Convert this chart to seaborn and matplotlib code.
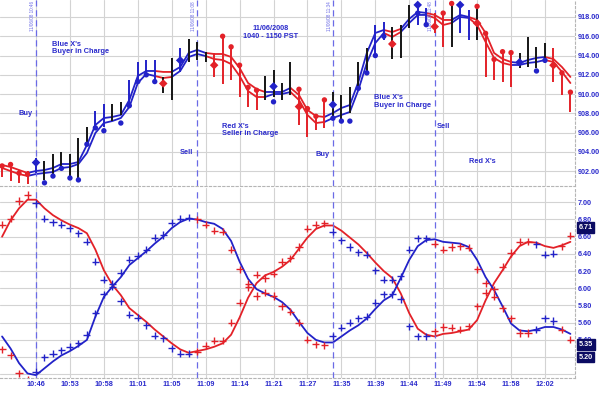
import numpy as np
import pandas as pd
import matplotlib
matplotlib.use("Agg")
import matplotlib.pyplot as plt
import matplotlib.transforms as mtransforms
import seaborn as sns

sns.set_style("white")
plt.rcParams['font.family'] = ['Liberation Sans', 'DejaVu Sans']

# ---------------- data ----------------
time_labels = ["10:46", "10:53", "10:58", "11:01", "11:05", "11:09", "11:14", "11:21",
               "11:27", "11:35", "11:39", "11:44", "11:49", "11:54", "11:58", "12:02"]
signal_bars = [4, 23, 39, 51]
signal_stamps = ["11/06/08 10:46", "11/06/08 11:08", "11/06/08 11:34", "11/06/08 11:48"]

bar_high = [902.8, 902.8, 902.1, 902.0, 903.4, 903.1, 903.8, 904.0, 903.8, 905.4,
            906.6, 908.3, 909.0, 909.0, 909.2, 911.5, 913.3, 913.5, 913.5, 911.8,
            913.75, 914.8, 915.7, 915.4, 914.4, 914.3, 916.0, 914.9, 913.0, 910.7,
            910.4, 911.9, 912.5, 911.15, 913.3, 910.5, 908.7, 907.7, 909.4, 910.2,
            909.9, 910.7, 913.3, 914.8, 917.2, 917.5, 916.95, 917.2, 919.25, 919.3,
            918.9, 918.4, 918.4, 919.25, 919.25, 918.7, 919.0, 916.3, 913.6, 914.4,
            914.3, 914.3, 915.9, 914.9, 915.3, 914.8, 912.2, 910.2]
bar_low = [901.4, 901.0, 900.8, 900.7, 901.8, 901.1, 901.6, 902.1, 901.3, 901.1,
           904.9, 906.5, 906.6, 907.2, 907.8, 908.7, 911.2, 912.0, 911.5, 910.1,
           909.4, 912.3, 913.3, 913.5, 913.3, 911.8, 911.0, 911.5, 909.7, 908.7,
           908.35, 909.4, 909.7, 909.4, 909.9, 906.8, 905.5, 906.3, 906.5, 907.5,
           907.3, 908.0, 910.6, 912.0, 914.1, 915.6, 913.65, 913.75, 916.9, 917.2,
           917.2, 916.3, 914.9, 914.9, 916.3, 915.6, 915.6, 911.8, 911.5, 911.3,
           910.7, 912.7, 912.8, 912.7, 913.2, 911.3, 909.9, 908.1]
bar_color = ("RRRR" "B" "KKKKKK" "BB" "KK" "BBBB" "KK" "B" "KKK" "RRRRRR" "KKKK"
             "RRRR" "KKKKK" "BB" "KKK" "BB" "RR" "K" "BB" "K" "RRRR" "KKKK" "RRR")

nan = np.nan
dot_price = [902.55, 902.7, 901.8, 901.7, nan, 900.8, 901.5, 902.3, 901.3, 901.1,
             904.8, 906.5, 906.2, nan, 907.0, 908.8, 911.3, 912.0, 911.3, nan,
             nan, nan, nan, nan, nan, nan, 916.0, 914.9, 913.0, 910.7,
             910.4, nan, 909.2, nan, nan, 910.5, 908.5, 907.7, 909.4, 907.5,
             907.2, 907.2, 910.6, 912.2, 914.0, 916.0, nan, nan, nan, 918.4,
             917.2, nan, 918.4, 919.4, nan, nan, 919.1, 916.3, 913.6, 914.4,
             914.3, nan, nan, 912.4, 913.5, nan, 912.2, 910.2]
diamond_price = [nan, nan, nan, nan, 902.9, nan, nan, nan, nan, nan,
                 nan, nan, nan, nan, nan, nan, nan, nan, nan, 911.1,
                 nan, 913.5, nan, nan, nan, 913.0, nan, nan, nan, nan,
                 nan, nan, 910.8, nan, nan, 908.7, nan, nan, nan, 908.9,
                 nan, nan, nan, nan, nan, nan, 915.2, nan, nan, 919.25,
                 nan, 917.0, nan, nan, 919.25, nan, 917.35, nan, nan, nan,
                 nan, 913.3, nan, nan, nan, 913.0, nan, nan]

ma_upper = [902.65, 902.44, 902.13, 901.82, 902.03, 902.13, 902.34, 902.75, 902.75, 902.96,
            904.72, 906.8, 907.52, 907.63, 907.84, 909.39, 911.88, 912.4, 912.4, 912.3,
            912.3, 912.81, 914.27, 914.58, 914.27, 914.16, 914.16, 913.85, 912.71, 911.15,
            910.53, 910.22, 910.22, 910.22, 910.64, 909.91, 908.35, 907.73, 907.63, 908.04,
            908.56, 908.87, 911.26, 914.27, 916.34, 916.65, 916.44, 916.76, 917.8, 918.52,
            918.42, 918.21, 917.69, 917.69, 918.21, 918.0, 917.69, 916.34, 914.27, 913.64,
            913.33, 913.23, 913.54, 913.75, 913.85, 913.64, 912.81, 911.78]
ma_lower = [902.34, 902.02, 901.71, 901.51, 901.71, 901.82, 901.92, 902.34, 902.44, 902.75,
            903.89, 905.97, 907.0, 907.21, 907.52, 908.66, 911.15, 912.09, 911.88, 911.67,
            911.78, 912.4, 913.85, 914.16, 913.95, 913.64, 913.54, 913.12, 911.88, 910.32,
            909.7, 909.7, 910.01, 910.01, 910.22, 909.39, 907.84, 907.0, 907.11, 907.52,
            907.84, 908.15, 910.43, 913.23, 915.3, 916.34, 915.93, 916.44, 917.38, 918.21,
            918.21, 917.9, 917.17, 917.38, 918.0, 917.9, 917.17, 915.41, 913.75, 913.23,
            913.02, 913.02, 913.23, 913.33, 913.54, 913.33, 912.3, 911.15]
trend_top = ("RRRR" + "B" * 15 + "RR" + "BBBB" + "R" * 7 + "BBB" + "RRRR" + "B" * 7
             + "RR" + "BBB" + "RRR" + "BB" + "RRRRR" + "BBBB" + "RRR")

osc_red = [6.60, 6.79, 6.93, 7.03, 7.03, 6.93, 6.85, 6.79, 6.74, 6.70,
           6.64, 6.45, 6.21, 6.04, 5.92, 5.77, 5.69, 5.61, 5.52, 5.44,
           5.36, 5.29, 5.25, 5.27, 5.29, 5.32, 5.36, 5.46, 5.66, 5.89,
           6.06, 6.15, 6.19, 6.25, 6.33, 6.46, 6.59, 6.69, 6.73, 6.73,
           6.67, 6.59, 6.51, 6.41, 6.30, 6.20, 6.12, 5.94, 5.71, 5.53,
           5.46, 5.44, 5.47, 5.48, 5.50, 5.52, 5.63, 5.86, 6.06, 6.21,
           6.37, 6.49, 6.54, 6.53, 6.49, 6.47, 6.50, 6.54]
osc_blue = [5.44, 5.30, 5.13, 5.01, 4.99, 5.07, 5.15, 5.22, 5.27, 5.33,
            5.40, 5.67, 5.90, 6.02, 6.13, 6.27, 6.35, 6.43, 6.52, 6.60,
            6.70, 6.77, 6.81, 6.80, 6.77, 6.75, 6.69, 6.55, 6.31, 6.11,
            5.99, 5.94, 5.90, 5.84, 5.75, 5.61, 5.48, 5.40, 5.37, 5.37,
            5.44, 5.51, 5.57, 5.65, 5.76, 5.86, 5.92, 6.12, 6.33, 6.49,
            6.56, 6.57, 6.54, 6.53, 6.52, 6.48, 6.33, 6.13, 5.98, 5.79,
            5.59, 5.51, 5.50, 5.52, 5.55, 5.55, 5.52, 5.47]
mark_red = [6.74, 6.81, 7.015, 7.085, 6.99, 6.81, 6.77, 6.74, 6.70, 6.64,
            6.54, 6.31, 6.10, 6.02, 5.85, 5.69, 5.66, 5.57, 5.45, 5.42,
            5.30, 5.24, 5.24, 5.26, 5.33, 5.39, 5.39, 5.60, 5.83, 6.01,
            6.16, 6.12, 6.17, 6.31, 6.35, 6.48, 6.69, 6.74, 6.755, 6.66,
            6.56, 6.48, 6.42, 6.39, 6.21, 6.10, 6.10, 5.87, 5.56, 5.44,
            5.44, 5.50, 5.55, 5.54, 5.52, 5.56, 5.79, 5.95, 5.99, 6.25,
            6.41, 6.54, 6.54, 6.51, 6.39, 6.40, 6.49, 6.61]
mark_blue = [5.29, 5.22, 5.01, 4.94, 5.03, 5.20, 5.24, 5.28, 5.32, 5.36,
             5.46, 5.71, 5.93, 6.05, 6.18, 6.33, 6.38, 6.45, 6.59, 6.62,
             6.76, 6.81, 6.82, 6.80, 6.74, 6.67, 6.66, 6.45, 6.22, 6.05,
             5.91, 5.95, 5.91, 5.79, 5.73, 5.60, 5.40, 5.35, 5.34, 5.44,
             5.54, 5.60, 5.65, 5.67, 5.83, 5.93, 5.93, 6.14, 6.45, 6.58,
             6.58, 6.52, 6.45, 6.48, 6.49, 6.47, 6.22, 6.06, 5.90, 5.77,
             5.65, 5.48, 5.48, 5.52, 5.65, 5.62, 5.52, 5.40]
trend_osc = "R" * 4 + "B" * 19 + "R" * 16 + "B" * 12 + "R" * 12 + "B" * 3 + "R" * 2

price_ticks = [902, 904, 906, 908, 910, 912, 914, 916, 918]
osc_ticks = [5.0, 5.2, 5.4, 5.6, 5.8, 6.0, 6.2, 6.4, 6.6, 6.8, 7.0]
last_values = [6.71, 5.35, 5.20]

# ---------------- styling ----------------
RED = "#e32128"
BLUE = "#2222c8"
BLACK = "#151515"
TXT = "#2b2bcc"
GRID = "#d3d3d3"
SIG = "#6b6be6"
cmap = {"R": RED, "B": BLUE, "K": BLACK}

n = len(bar_high)
idx = np.arange(n)

fig = plt.figure(figsize=(6.0, 3.94), dpi=100)
fig.patch.set_facecolor("white")
ax1 = fig.add_axes([0.0, 1 - 186 / 394, 575 / 600, 186 / 394])
ax2 = fig.add_axes([0.0, 1 - 378 / 394, 575 / 600, 190 / 394], sharex=ax1)

for ax in (ax1, ax2):
    ax.set_facecolor("white")
    for s in ("top", "left"):
        ax.spines[s].set_visible(False)
    for s in ("right", "bottom"):
        ax.spines[s].set_color("#b5b5b5")
        ax.spines[s].set_linestyle((0, (2, 2)))
        ax.spines[s].set_linewidth(0.8)
    ax.yaxis.tick_right()
    ax.tick_params(axis="both", length=0, labelsize=5.2, labelcolor=TXT, pad=2)
    ax.set_xticks(range(4, 65, 4))
    ax.grid(True, color=GRID, lw=0.8)
    ax.set_axisbelow(True)

ax1.set_xlim(-0.244, 67.54)
ax1.set_ylim(900.47, 919.76)
ax2.set_ylim(4.957, 7.166)

# ---------- top panel ----------
def colored_runs(ax, x, y, trend, lw=1.3):
    start = 0
    for k in range(1, len(x) + 1):
        if k == len(x) or trend[k] != trend[start]:
            s0 = max(start - 1, 0)
            sns.lineplot(x=x[s0:k], y=np.asarray(y)[s0:k], ax=ax, color=cmap[trend[start]],
                         lw=lw, sort=False, estimator=None, legend=False)
            start = k

colored_runs(ax1, idx, ma_upper, trend_top)
colored_runs(ax1, idx, ma_lower, trend_top)

ax1.vlines(idx, bar_low, bar_high, colors=[cmap[c] for c in bar_color], lw=1.4, zorder=3)

top_df = pd.DataFrame({"i": idx, "dot": dot_price, "dia": diamond_price,
                       "trend": list(trend_top)})
pal = {"R": RED, "B": BLUE}
sns.scatterplot(data=top_df.dropna(subset=["dot"]), x="i", y="dot", hue="trend",
                palette=pal, s=15, marker="o", linewidth=0, ax=ax1, legend=False, zorder=4)
sns.scatterplot(data=top_df.dropna(subset=["dia"]), x="i", y="dia", hue="trend",
                palette=pal, s=19, marker="D", linewidth=0, ax=ax1, legend=False, zorder=4)

# ---------- bottom panel ----------
sns.lineplot(x=idx, y=osc_red, ax=ax2, color=RED, lw=1.3, legend=False)
sns.lineplot(x=idx, y=osc_blue, ax=ax2, color=BLUE, lw=1.3, legend=False)
osc_df = pd.DataFrame({"i": idx, "mr": mark_red, "mb": mark_blue, "trend": list(trend_osc)})
for col in ("mr", "mb"):
    sns.scatterplot(data=osc_df, x="i", y=col, hue="trend", palette=pal, marker="+",
                    s=26, linewidth=1.0, ax=ax2, legend=False, zorder=4)

# signal lines
for sb, stamp in zip(signal_bars, signal_stamps):
    for ax in (ax1, ax2):
        ax.axvline(sb, color=SIG, lw=0.9, ls=(0, (5, 3)), zorder=2)
    tr = mtransforms.blended_transform_factory(ax1.transData, ax1.transAxes)
    ax1.text(sb - 0.45, 0.995, stamp, transform=tr, rotation=90, ha="center", va="top",
             fontsize=3.3, color=SIG, clip_on=True)

# axes labels
ax1.set_yticks(price_ticks)
ax1.set_yticklabels([f"{v:.2f}" for v in price_ticks])
ax1.tick_params(axis="x", labelbottom=False)
ax2.set_yticks(osc_ticks)
ax2.set_yticklabels(["" if v < 5.3 else f"{v:.2f}" for v in osc_ticks])
ax2.set_xticklabels(time_labels)
ax1.set_xlabel("")
ax1.set_ylabel("")
ax2.set_xlabel("")
ax2.set_ylabel("")
for ax in (ax1, ax2):
    for lbl in ax.get_xticklabels() + ax.get_yticklabels():
        lbl.set_fontweight("bold")

# value boxes
trb = mtransforms.blended_transform_factory(ax2.transAxes, ax2.transData)
for v in last_values:
    ax2.text(1.006, v, f"{v:.2f}", transform=trb, ha="left", va="center", fontsize=5.2,
             fontweight="bold", color="white", clip_on=False, zorder=10,
             bbox=dict(boxstyle="square,pad=0.25", fc="#0b0b62", ec="#0b0b62"))

# annotations
ann = dict(color=TXT, fontsize=5.3, fontweight="bold", linespacing=1.15)
ax1.text(1.9, 907.94, "Buy", ha="left", va="center", **ann)
ax1.text(5.9, 914.78, "Blue X's\nBuyer in Charge", ha="left", va="center", **ann)
ax1.text(31.6, 916.39, "11/06/2008\n1040 - 1150 PST", ha="center", va="center", **ann)
ax1.text(25.9, 906.28, "Red X's\nSeller in Charge", ha="left", va="center", **ann)
ax1.text(20.9, 903.9, "Sell", ha="left", va="center", **ann)
ax1.text(37.0, 903.69, "Buy", ha="left", va="center", **ann)
ax1.text(43.8, 909.2, "Blue X's\nBuyer in Charge", ha="left", va="center", **ann)
ax1.text(51.2, 906.59, "Sell", ha="left", va="center", **ann)
ax1.text(55.0, 902.96, "Red X's", ha="left", va="center", **ann)

fig.savefig("out.png", dpi=100, facecolor="white")
